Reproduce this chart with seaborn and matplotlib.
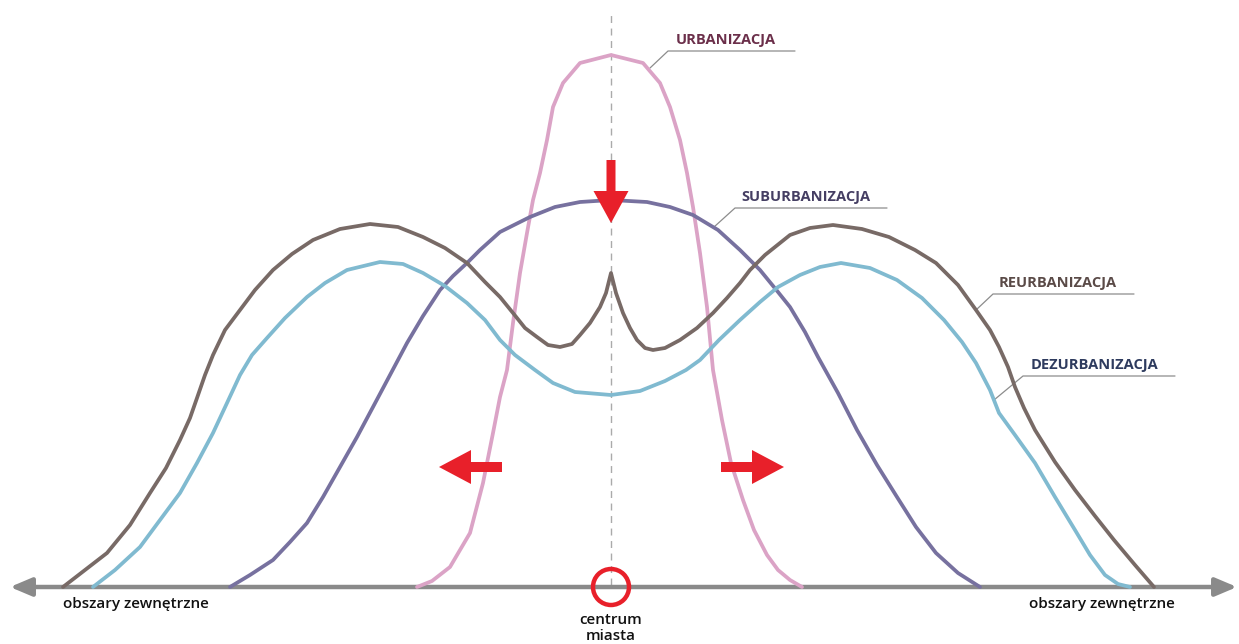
import pandas as pd
import seaborn as sns
import matplotlib.pyplot as plt
from matplotlib.patches import Circle

# distance from the city centre (negative = left) and density above the base axis
urb_x = [-194, -179, -161, -141, -128, -118, -111, -104, -98, -91, -84, -78, -71, -64, -58, -48, -31, 0,
         32, 49, 59, 69, 76, 82, 89, 96, 102, 111, 120, 132, 143, 156, 167, 179, 191]
urb_y = [0, 6, 20, 54, 104, 154, 190, 217, 264, 314, 354, 387, 414, 447, 480, 504, 524, 532,
         524, 504, 480, 447, 414, 380, 334, 280, 217, 167, 124, 87, 57, 32, 17, 7, 0]

sub_x = [-381, -361, -338, -321, -304, -288, -271, -254, -238, -221, -204, -188, -171, -158, -144, -131, -111, -81, -56, -31, 0,
         36, 59, 82, 107, 129, 149, 167, 179, 194, 207, 227, 246, 266, 286, 305, 325, 347, 369]
sub_y = [0, 12, 27, 45, 64, 90, 120, 150, 180, 212, 244, 271, 297, 311, 324, 337, 355, 370, 380, 385, 387,
         385, 380, 372, 357, 337, 317, 295, 280, 255, 230, 194, 157, 122, 90, 60, 34, 14, 0]

reu_x = [-548, -526, -504, -481, -461, -445, -431, -421, -414, -406, -398, -386, -371, -356, -338, -319, -298, -271, -241,
         -213, -188, -166, -144, -126, -111, -98, -86, -74, -63, -51, -39, -31, -21, -11, -5, 0,
         5, 12, 19, 26, 34, 42, 54, 69, 86, 102, 116, 129, 139, 154, 179, 199, 222, 251, 278, 304, 325,
         347, 365, 379, 388, 397, 404, 413, 424, 444, 464, 484, 503, 524, 543]
reu_y = [0, 17, 34, 62, 94, 119, 147, 169, 189, 212, 232, 257, 277, 297, 317, 333, 347, 358, 363,
         360, 350, 339, 324, 305, 290, 274, 259, 250, 242, 240, 243, 252, 264, 280, 294, 314,
         294, 274, 259, 247, 239, 237, 239, 247, 259, 274, 289, 304, 317, 332, 352, 359, 362, 358, 350, 337, 324,
         302, 277, 257, 240, 220, 200, 179, 157, 125, 97, 71, 47, 22, 0]

dez_x = [-518, -496, -471, -451, -431, -414, -398, -384, -371, -359, -344, -326, -304, -286, -264, -231, -208, -188,
         -166, -144, -126, -111, -96, -76, -58, -36, 0, 29, 54, 75, 89, 108, 129, 149, 167, 189, 209, 230, 259,
         286, 311, 333, 351, 365, 379, 388, 404, 424, 444, 464, 479, 494, 507, 519]
dez_y = [0, 17, 40, 67, 94, 124, 154, 184, 212, 232, 249, 269, 290, 304, 317, 325, 323, 314,
         301, 284, 267, 247, 232, 217, 204, 195, 192, 196, 206, 217, 227, 247, 267, 285, 300, 312, 320, 324, 319,
         307, 289, 267, 245, 224, 197, 174, 152, 124, 90, 57, 32, 12, 3, 0]

names = ["URBANIZACJA", "SUBURBANIZACJA", "REURBANIZACJA", "DEZURBANIZACJA"]
line_colors = ["#dba3c6", "#77719f", "#786a66", "#80bad0"]
text_colors = ["#6b2f4a", "#453e63", "#5a4a47", "#2e3b5e"]

frames = []
for name, xs, ys in zip(names, [urb_x, sub_x, reu_x, dez_x], [urb_y, sub_y, reu_y, dez_y]):
    frames.append(pd.DataFrame({"dist": xs, "dens": ys, "faza": name}))
df = pd.concat(frames, ignore_index=True)

sns.set_style("white")
plt.rcParams["font.family"] = ["Open Sans", "DejaVu Sans"]

fig = plt.figure(figsize=(12.39, 6.44), dpi=100)
ax = fig.add_axes([0, 0, 1, 1])
ax.set_xlim(-611, 628)
ax.set_ylim(-57, 587)

# dashed centre line
ax.plot([0, 0], [2, 577], color="#aaaaaa", lw=1, ls=(0, (5, 4)), zorder=1)

sns.lineplot(data=df, x="dist", y="dens", hue="faza", palette=dict(zip(names, line_colors)),
             sort=False, estimator=None, lw=2.7, legend=False, ax=ax, zorder=3)
for l in ax.lines[1:]:
    l.set_solid_joinstyle("round")
    l.set_solid_capstyle("round")

# base axis with arrows at both ends
ax.annotate("", xy=(-601, 0), xytext=(626, 0),
            arrowprops=dict(arrowstyle="<|-|>,head_length=1.3,head_width=0.55",
                            color="#8a8a8a", lw=3.2, shrinkA=0, shrinkB=0), zorder=2)

# city centre marker
ax.add_patch(Circle((0, 0), 18, fill=False, ec="#e8202a", lw=3.2, zorder=5))

# red arrows
red = "#e8202a"
ax.arrow(0, 427, 0, -63, width=9, head_width=35, head_length=32, length_includes_head=True,
         color=red, lw=0, zorder=6)
ax.arrow(-109, 120, -63, 0, width=10, head_width=34, head_length=32, length_includes_head=True,
         color=red, lw=0, zorder=6)
ax.arrow(110, 120, 63, 0, width=10, head_width=34, head_length=32, length_includes_head=True,
         color=red, lw=0, zorder=6)

# labels with leader lines
label_pos = [(65, 547, 57, 184, 39, 519),
             (130, 390, 124, 276, 103, 360),
             (388, 304, 382, 523, 365, 277),
             (420, 222, 412, 564, 383, 187)]
for name, c, (tx, ty, lx0, lx1, px, py) in zip(names, text_colors, label_pos):
    ax.text(tx, ty, name, color=c, fontsize=10.5, fontweight="bold", va="center", ha="left")
    ax.plot([px, lx0, lx1], [py, ty - 11, ty - 11], color="#8c8c8c", lw=0.9, zorder=2)

ax.text(-548, -17, "obszary zewnętrzne", fontsize=11, fontweight="semibold", ha="left", va="center", color="#111111")
ax.text(564, -17, "obszary zewnętrzne", fontsize=11, fontweight="semibold", ha="right", va="center", color="#111111")
ax.text(0, -33, "centrum", fontsize=11, fontweight="semibold", ha="center", va="center", color="#111111")
ax.text(0, -49, "miasta", fontsize=11, fontweight="semibold", ha="center", va="center", color="#111111")

ax.set_axis_off()
fig.savefig("out.png", dpi=100)
